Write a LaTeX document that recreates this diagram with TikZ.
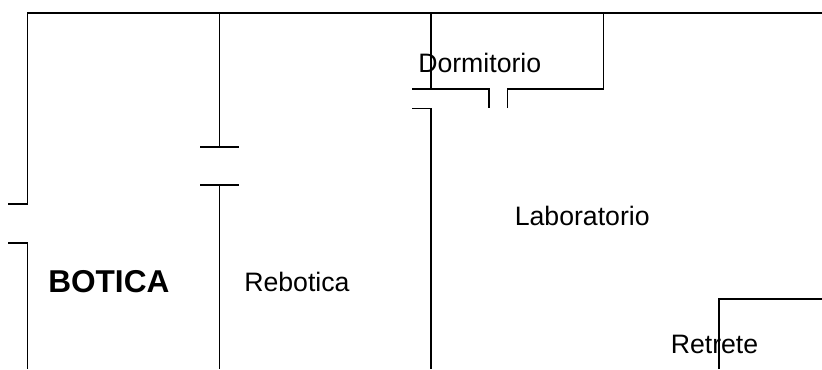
\documentclass[tikz,border=0pt]{standalone}
\usepackage{fontspec}
\setmainfont{Liberation Sans}
\tikzset{
  wall/.style={line width=1.4pt,line join=miter,black},
  room/.style={anchor=base west,inner sep=0pt,font=\fontsize{20}{24}\selectfont},
  shop/.style={anchor=base west,inner sep=0pt,font=\fontsize{23.7}{28}\selectfont\bfseries}
}
\begin{document}
\begin{tikzpicture}[x=0.75pt,y=-0.75pt]
\useasboundingbox (0,0) rectangle (822,369);
% outer wall and entrance
\draw[wall] (8,204) -- (27.5,204) -- (27.5,13) -- (822,13);
\draw[wall] (8,243) -- (27.5,243) -- (27.5,369);
% botica / rebotica wall
\draw[wall] (219.5,13) -- (219.5,147);
\draw[wall] (200,147) -- (239,147);
\draw[wall] (200,185) -- (239,185);
\draw[wall] (219.5,185) -- (219.5,369);
% rebotica / laboratorio wall and dormitorio
\draw[wall] (431,13) -- (431,89);
\draw[wall] (412,89) -- (489,89) -- (489,108);
\draw[wall] (507.5,108) -- (507.5,89) -- (603.5,89) -- (603.5,13);
\draw[wall] (412,108.5) -- (431,108.5) -- (431,369);
% retrete
\draw[wall] (719,369) -- (719,299) -- (822,299);
% labels
\node[shop] (botica) at (48,292) {BOTICA};
\node[room] (rebotica) at (244,291.5) {Rebotica};
\node[room] (dormitorio) at (418,72) {Dormitorio};
\node[room] (laboratorio) at (514.5,225) {Laboratorio};
\node[room] (retrete) at (670.5,353.5) {Retrete};
\end{tikzpicture}
\end{document}
